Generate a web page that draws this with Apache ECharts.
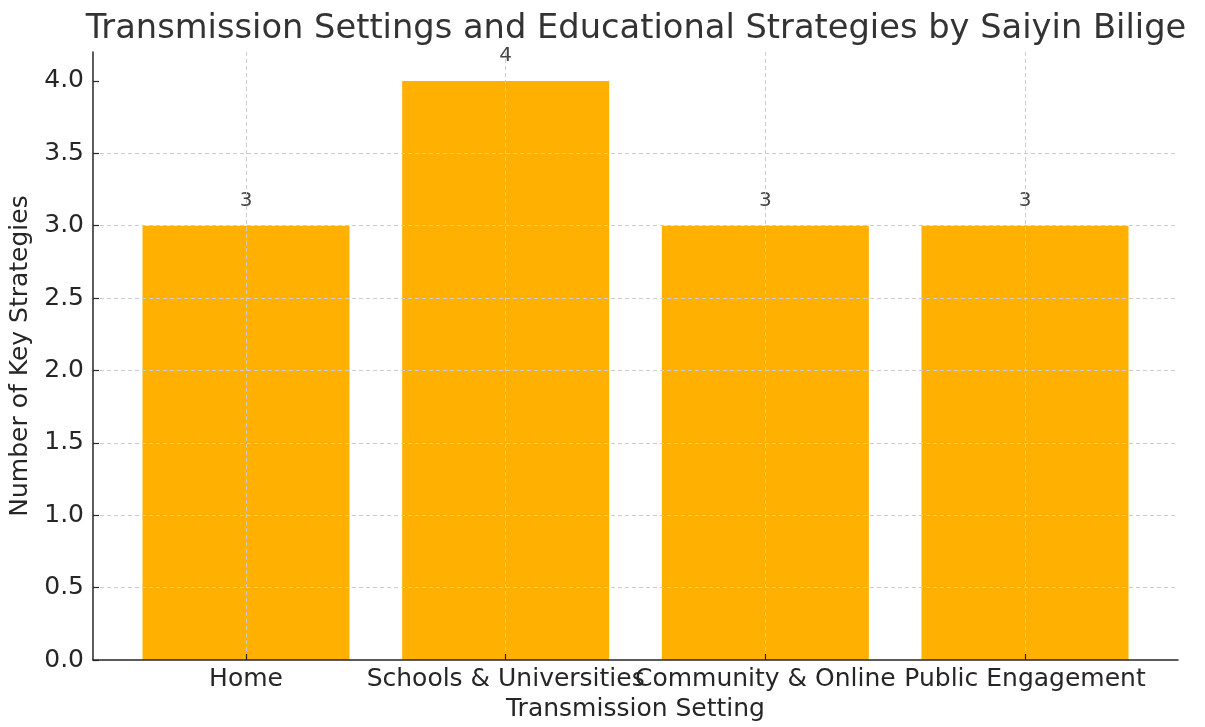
<!DOCTYPE html>
<html>
<head>
<meta charset="utf-8">
<script src="https://cdn.jsdelivr.net/npm/echarts@6/dist/echarts.min.js"></script>
<style>html,body{margin:0;padding:0;background:#fff}#c{width:1205px;height:727px}</style>
</head>
<body>
<div id="c"></div>
<script>
const categories = ["Home", "Schools & Universities", "Community & Online", "Public Engagement"];
const strategyCounts = [3, 4, 3, 3];
const yTicks = [0, 0.5, 1.0, 1.5, 2.0, 2.5, 3.0, 3.5, 4.0];

const FONT = "DejaVu Sans";
const TXT = "#262626";
const chart = echarts.init(document.getElementById('c'), null, {renderer: 'canvas'});
const gridLine = {show: true, lineStyle: {color: '#cccccc', type: [4, 3], width: 1}};
chart.setOption({
  animation: false,
  backgroundColor: '#fff',
  textStyle: {fontFamily: FONT},
  title: {
    text: "Transmission Settings and Educational Strategies by Saiyin Bilige",
    left: 631, textAlign: 'center', top: 7,
    textStyle: {fontFamily: FONT, fontSize: 33.7, fontWeight: 'normal', color: '#333333'}
  },
  grid: [
    {left: 93, right: 27, top: 52, bottom: 67, containLabel: false},
    {left: 246, right: 180, top: 52, bottom: 67, containLabel: false}
  ],
  xAxis: [
    {type: 'value', gridIndex: 0, min: 0, max: 1, z: 4,
      axisLine: {show: true, lineStyle: {color: TXT, width: 1.5}},
      axisTick: {show: false}, axisLabel: {show: false}, splitLine: {show: false}},
    {type: 'category', gridIndex: 1, data: categories, boundaryGap: false, z: 3,
      axisLine: {show: false},
      axisTick: {show: true, inside: true, length: 6, lineStyle: {color: TXT, width: 1.2}},
      axisLabel: {fontFamily: FONT, fontSize: 25, color: TXT, margin: 7, interval: 0},
      splitLine: gridLine,
      name: "Transmission Setting", nameLocation: 'middle', nameGap: 37,
      nameTextStyle: {fontFamily: FONT, fontSize: 25, color: TXT}}
  ],
  yAxis: [
    {type: 'value', gridIndex: 0, min: 0, max: 4.2, interval: 0.5, z: 3,
      axisLine: {show: true, lineStyle: {color: TXT, width: 1.5}},
      axisTick: {show: true, inside: true, length: 6, lineStyle: {color: TXT, width: 1.2}, customValues: yTicks},
      axisLabel: {fontFamily: FONT, fontSize: 25, color: TXT, margin: 9, customValues: yTicks,
        formatter: v => v.toFixed(1)},
      splitLine: Object.assign({showMaxLine: false, showMinLine: false}, gridLine),
      name: "Number of Key Strategies", nameLocation: 'middle', nameGap: 56, nameRotate: 90,
      nameTextStyle: {fontFamily: FONT, fontSize: 25, color: TXT}},
    {type: 'value', gridIndex: 1, min: 0, max: 4.2, show: false}
  ],
  series: [{
    type: 'bar', xAxisIndex: 1, yAxisIndex: 1,
    data: strategyCounts, barWidth: 207,
    itemStyle: {color: '#FFB000'},
    label: {show: true, position: 'top', distance: 15, fontFamily: FONT, fontSize: 20, color: '#444444'}
  }]
});
</script>
</body>
</html>
